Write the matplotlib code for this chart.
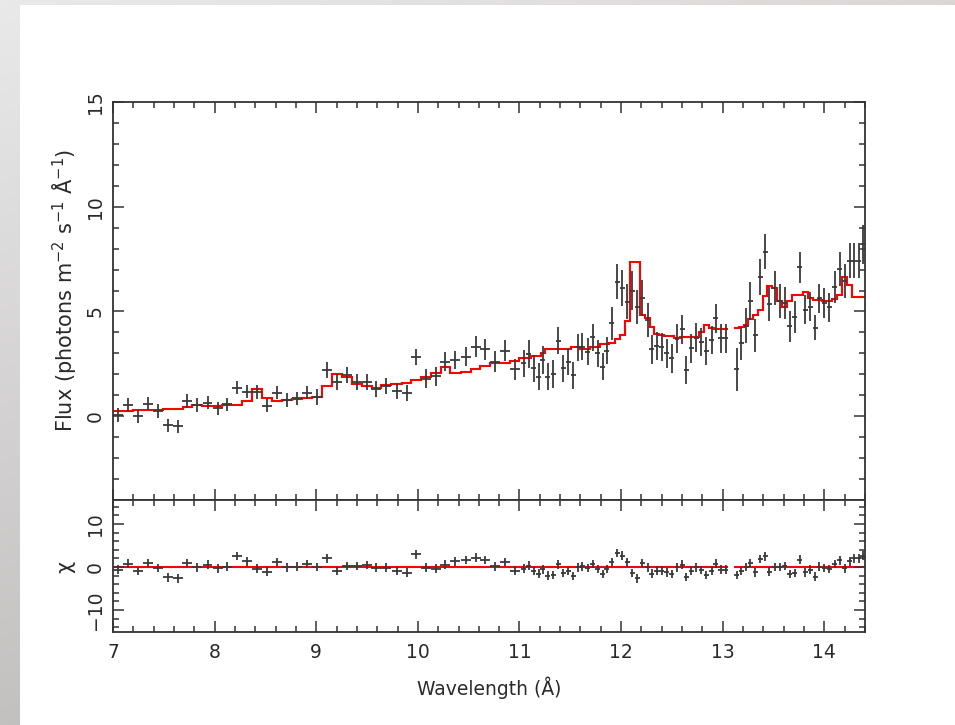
import numpy as np
import matplotlib.pyplot as plt
from matplotlib.patches import Rectangle
from matplotlib.ticker import MultipleLocator

# bin centres (Angstrom); 0.1 A bins below 11 A, 0.05 A bins above
wavelength = [
    7.05, 7.15, 7.25, 7.34, 7.44, 7.54, 7.64, 7.73, 7.83, 7.93,
    8.03, 8.12, 8.22, 8.32, 8.42, 8.52, 8.61, 8.71, 8.81, 8.91,
    9.01, 9.11, 9.20, 9.30, 9.40, 9.50, 9.59, 9.69, 9.79, 9.89,
    9.98, 10.08, 10.18, 10.27, 10.37, 10.47, 10.57, 10.66, 10.76, 10.86,
    10.96,
    11.04, 11.09, 11.14, 11.19, 11.23, 11.28, 11.33, 11.38, 11.43, 11.48,
    11.53, 11.58, 11.62, 11.67, 11.72, 11.77, 11.82, 11.86, 11.91, 11.96,
    12.01, 12.06, 12.11, 12.16, 12.21, 12.26, 12.30, 12.35, 12.40, 12.45,
    12.50, 12.55, 12.60, 12.64, 12.69, 12.74, 12.79, 12.84, 12.89, 12.93,
    12.98, 13.03,
    13.14, 13.18, 13.23, 13.27, 13.32, 13.37, 13.42, 13.46, 13.51, 13.56,
    13.61, 13.66, 13.71, 13.76, 13.81, 13.86, 13.91, 13.95, 14.00, 14.05,
    14.10, 14.15, 14.20, 14.25, 14.29, 14.34, 14.38,
]

flux = [
    0.05, 0.53, 0.00, 0.60, 0.24, -0.43, -0.48, 0.72, 0.53, 0.65,
    0.37, 0.57, 1.36, 1.17, 1.16, 0.50, 1.12, 0.77, 0.85, 1.12,
    0.92, 2.20, 1.64, 1.96, 1.64, 1.64, 1.32, 1.44, 1.21, 1.12,
    2.84, 1.80, 1.91, 2.60, 2.68, 2.84, 3.32, 3.19, 2.60, 3.12,
    2.23,
    2.52, 2.97, 2.28, 1.88, 2.68, 1.88, 2.01, 3.60, 2.28, 2.60,
    1.96, 3.29, 3.32, 3.08, 3.77, 3.00, 2.36, 3.12, 4.43, 6.43,
    6.11, 5.47, 6.00, 5.22, 5.65, 4.60, 3.19, 3.35, 3.30, 3.00,
    2.76, 3.70, 4.15, 2.21, 3.24, 3.75, 3.55, 3.12, 3.63, 4.67,
    3.72, 3.72,
    2.23, 3.48, 4.33, 5.50, 3.86, 6.64, 7.86, 5.36, 6.11, 5.50,
    5.40, 4.29, 4.73, 7.11, 5.08, 5.23, 4.22, 5.63, 5.40, 5.20,
    6.16, 7.02, 6.45, 7.43, 7.43, 7.43, 8.20,
]

flux_err = [
    0.32, 0.32, 0.32, 0.32, 0.32, 0.32, 0.32, 0.32, 0.32, 0.32,
    0.32, 0.32, 0.32, 0.32, 0.32, 0.32, 0.32, 0.32, 0.32, 0.32,
    0.38, 0.38, 0.38, 0.38, 0.38, 0.38, 0.38, 0.38, 0.38, 0.38,
    0.38, 0.45, 0.45, 0.45, 0.45, 0.45, 0.50, 0.50, 0.50, 0.50,
    0.50,
    0.65, 0.65, 0.65, 0.65, 0.65, 0.65, 0.65, 0.65, 0.65, 0.65,
    0.65, 0.65, 0.65, 0.65, 0.65, 0.65, 0.65, 0.65, 0.80, 0.85,
    0.85, 0.85, 0.95, 0.80, 0.85, 0.80, 0.68, 0.68, 0.68, 0.68,
    0.68, 0.68, 0.68, 0.68, 0.68, 0.68, 0.68, 0.68, 0.68, 0.68,
    0.68, 0.68,
    1.05, 0.80, 0.85, 0.90, 0.80, 0.85, 0.85, 0.80, 0.80, 0.80,
    0.75, 0.75, 0.75, 0.75, 0.70, 0.70, 0.60, 0.70, 0.70, 0.70,
    0.75, 0.80, 0.80, 0.85, 0.85, 0.85, 0.95,
]

model = [
    0.25, 0.27, 0.28, 0.30, 0.32, 0.33, 0.35, 0.42, 0.55, 0.47,
    0.47, 0.53, 0.55, 0.75, 1.28, 0.85, 0.75, 0.78, 0.82, 0.88,
    0.92, 1.44, 2.00, 1.85, 1.53, 1.44, 1.37, 1.50, 1.56, 1.60,
    1.72, 1.85, 2.07, 2.36, 2.07, 2.12, 2.23, 2.39, 2.52, 2.55,
    2.65,
    2.76, 2.76, 2.87, 2.87, 3.03, 3.19, 3.19, 3.19, 3.20, 3.20,
    3.32, 3.32, 3.19, 3.19, 3.29, 3.29, 3.43, 3.43, 3.51, 3.67,
    3.88, 4.56, 7.34, 7.34, 4.83, 4.67, 4.24, 3.92, 3.88, 3.83,
    3.83, 3.72, 3.79, 3.79, 3.79, 3.79, 4.03, 4.35, 4.20, 4.15,
    4.15, 4.15,
    4.20, 4.24, 4.35, 4.63, 4.83, 5.07, 5.74, 6.22, 6.11, 5.52,
    5.20, 5.52, 5.79, 5.79, 5.95, 5.63, 5.55, 5.55, 5.52, 5.52,
    5.60, 5.79, 6.66, 6.27, 5.68, 5.68, 5.68,
]

wl = np.array(wavelength)
fl = np.array(flux)
err = np.array(flux_err)
mod = np.array(model)
half_width = np.where(wl < 11.0, 0.049, 0.0245)
chi = (fl - mod) / err

# data has a hole around 13.08 A, so the model is drawn in two pieces
segments = [wl < 13.08, wl > 13.08]


def bin_edges(x, hw):
    mids = (x[1:] + x[:-1]) / 2
    return np.concatenate([[x[0] - hw[0]], mids, [x[-1] + hw[-1]]])


W, H = 955, 725
fig = plt.figure(figsize=(W / 100, H / 100), dpi=100)

# grey frame behind the white page
bg = fig.add_axes([0, 0, 1, 1], zorder=-5)
yy, xx = np.mgrid[0:H, 0:W]
g = 0.915 - 0.15 * (yy / H) - 0.06 * (xx / W)
tint = 0.012 * (yy / H + xx / W)
img = np.dstack([g, g - tint, g - tint])
bg.imshow(img, extent=[0, W, H, 0], aspect='auto')
bg.add_patch(Rectangle((20, 5), W - 20, H - 5, facecolor='white', edgecolor='none'))
bg.set_xlim(0, W)
bg.set_ylim(H, 0)
bg.axis('off')

left, width = 113 / W, 752 / W
ax1 = fig.add_axes([left, (H - 500) / H, width, 398 / H])
ax2 = fig.add_axes([left, (H - 632) / H, width, 132 / H], sharex=ax1)

dark = '#333333'
txt = '#2a2a2a'
for ax in (ax1, ax2):
    for sp in ax.spines.values():
        sp.set_color(dark)
        sp.set_linewidth(1.3)
    ax.tick_params(which='both', direction='in', top=True, right=True,
                   color=dark, width=1.1, labelsize=13.5, labelcolor=txt)
    ax.tick_params(which='major', length=8)
    ax.tick_params(which='minor', length=4)
    ax.tick_params(axis='y', labelrotation=90, pad=6)
    ax.tick_params(axis='x', pad=8)
    ax.xaxis.set_major_locator(MultipleLocator(1))
    ax.xaxis.set_minor_locator(MultipleLocator(0.2))

# spectrum with model
ax1.errorbar(wl, fl, yerr=err, xerr=half_width, fmt='none',
             ecolor='#3a3a3a', elinewidth=1.3, capsize=0)
for seg in segments:
    ax1.stairs(mod[seg], bin_edges(wl[seg], half_width[seg]),
               color='red', lw=1.5, baseline=None)
ax1.set_xlim(7.0, 14.4)
ax1.set_ylim(-4, 15)
ax1.yaxis.set_major_locator(MultipleLocator(5))
ax1.yaxis.set_minor_locator(MultipleLocator(1))
ax1.tick_params(axis='x', labelbottom=False)

# residuals
ax2.errorbar(wl, chi, yerr=1.0, xerr=half_width, fmt='none',
             ecolor='#3a3a3a', elinewidth=1.3, capsize=0)
for seg in segments:
    ax2.stairs(np.zeros(seg.sum()), bin_edges(wl[seg], half_width[seg]),
               color='red', lw=1.5, baseline=None)
ax2.set_ylim(-15.1, 15.6)
ax2.yaxis.set_major_locator(MultipleLocator(10))
ax2.yaxis.set_minor_locator(MultipleLocator(2))

for ax in (ax1, ax2):
    for lbl in ax.get_yticklabels():
        lbl.set_va('center')

fig.text(65 / W, 1 - 290 / H, 'Flux (photons m$^{-2}$ s$^{-1}$ Å$^{-1}$)',
         rotation=90, ha='center', va='center', fontsize=15, color=txt)
fig.text(65 / W, 1 - 567 / H, 'χ', rotation=90, ha='center', va='center',
         fontsize=15, color=txt)
fig.text(489 / W, 1 - 688 / H, 'Wavelength (Å)', ha='center', va='center',
         fontsize=13.5, color=txt)

fig.savefig('out.png', dpi=100)
